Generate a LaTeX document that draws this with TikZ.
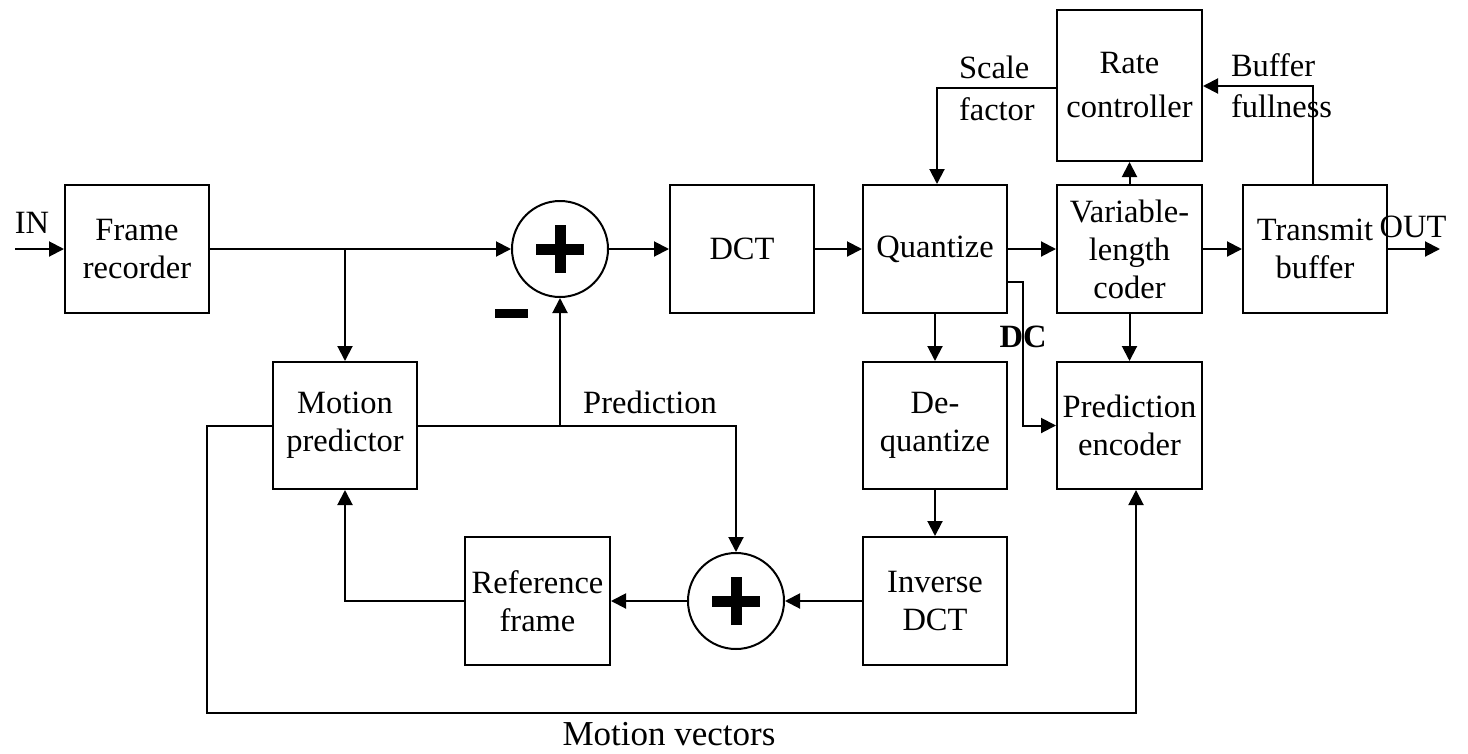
\documentclass[tikz,border=0pt]{standalone}
\usepackage{fontspec}
\setmainfont{Liberation Serif}
\usetikzlibrary{arrows.meta}
\begin{document}
\begin{tikzpicture}[x=1pt,y=-1pt,
  font=\fontsize{32.5}{38}\selectfont,
  every path/.style={line width=2pt},
  box/.style={draw, line width=2pt, align=center, inner sep=0pt, minimum width=144pt, minimum height=128pt},
  sumnode/.style={draw, circle, line width=2pt, minimum size=96pt, inner sep=0pt},
  arr/.style={-{Triangle[length=15pt,width=15pt]}},
  plusbar/.style={line width=11pt},
  lbl/.style={inner sep=0pt}]
\useasboundingbox (0,0) rectangle (1468,753);

% boxes
\node[box] (fr) at (137,249) {Frame\\recorder};
\node[box] (dct) at (742,249) {DCT};
\node[box] (q) at (935,249) {Quantize};
\node[box, minimum width=145pt] (vlc) at (1129.5,249) {Variable-\\length\\coder};
\node[box] (tb) at (1315,249) {Transmit\\buffer};
\node[box, minimum width=145pt, minimum height=151pt, font=\fontsize{32.5}{44}\selectfont] (rc) at (1129.5,85.5) {Rate\\controller};
\node[box, minimum height=127pt] (mp) at (345,425.5) {Motion\\predictor};
\node[box, minimum height=127pt] (dq) at (935,425.5) {De-\\quantize};
\node[box, minimum width=145pt, minimum height=127pt] (pe) at (1129.5,425.5) {Prediction\\encoder};
\node[box, minimum width=145pt] (rf) at (537.5,601) {Reference\\frame};
\node[box] (idct) at (935,601) {Inverse\\DCT};

% summing junctions
\node[sumnode] (s1) at (560,249) {};
\node[sumnode] (s2) at (736,601) {};
\draw[plusbar] ([xshift=-24pt]s1.center) -- ([xshift=24pt]s1.center);
\draw[plusbar] ([yshift=-24pt]s1.center) -- ([yshift=24pt]s1.center);
\draw[plusbar] ([xshift=-24pt]s2.center) -- ([xshift=24pt]s2.center);
\draw[plusbar] ([yshift=-24pt]s2.center) -- ([yshift=24pt]s2.center);
% minus sign
\fill (495,308.5) rectangle (528,317.5);

% coordinates
\coordinate (in) at (15,249);
\coordinate (out) at (1440,249);
\coordinate (b1) at (345,249);
\coordinate (sf) at (937,88);
\coordinate (bf) at (1313,86);
\coordinate (dc) at (1023,282);
\coordinate (mvl) at (207,713);
\coordinate (mvr) at (1136,713);

% connectors
\draw[arr] (in) -- (fr.west);
\draw[arr] (fr.east) -- (s1.west);
\draw[arr] (b1) -- (mp.north);
\draw[arr] (s1.east) -- (dct.west);
\draw[arr] (dct.east) -- (q.west);
\draw[arr] (q.east) -- (vlc.west);
\draw[arr] (vlc.east) -- (tb.west);
\draw[arr] (tb.east) -- (out);
\draw[arr] (vlc.north) -- (rc.south);
\draw[arr] (rc.west |- sf) -- (sf) -- (sf |- q.north);
\draw[arr] (bf |- tb.north) -- (bf) -- (bf -| rc.east);
\draw[arr] (q.south) -- (dq.north);
\draw[arr] (dq.south) -- (idct.north);
\draw[arr] (vlc.south) -- (pe.north);
\draw[arr] (dc -| q.east) -- (dc) |- (pe.west);
\draw[arr] (idct.west) -- (s2.east);
\draw[arr] (s2.west) -- (rf.east);
\draw[arr] (rf.west) -| (mp.south);
\draw[arr] (mp.east) -| (s2.north);
\draw[arr] (mp.east -| s1.south) -- (s1.south);
\draw[arr] (mp.west) -- (mp.west -| mvl) -- (mvl) -- (mvr) -- (mvr |- pe.south);

% labels
\node[lbl, anchor=base] (inl) at (32,233) {IN};
\node[lbl, anchor=base] (outl) at (1413,237) {OUT};
\node[lbl, anchor=base] (predl) at (650,413) {Prediction};
\node[lbl, anchor=base west] (scl) at (958,78) {Scale};
\node[lbl, anchor=base west] (fcl) at (958,120) {factor};
\node[lbl, anchor=base west] (bufl) at (1230,76) {Buffer};
\node[lbl, anchor=base west] (fulll) at (1230,117) {fullness};
\node[lbl, anchor=base, font=\fontsize{32.5}{38}\selectfont\bfseries] (dcl) at (1023,347) {DC};
\node[lbl, anchor=base, font=\fontsize{35}{40}\selectfont] (mvlbl) at (669,745) {Motion vectors};
\end{tikzpicture}
\end{document}
